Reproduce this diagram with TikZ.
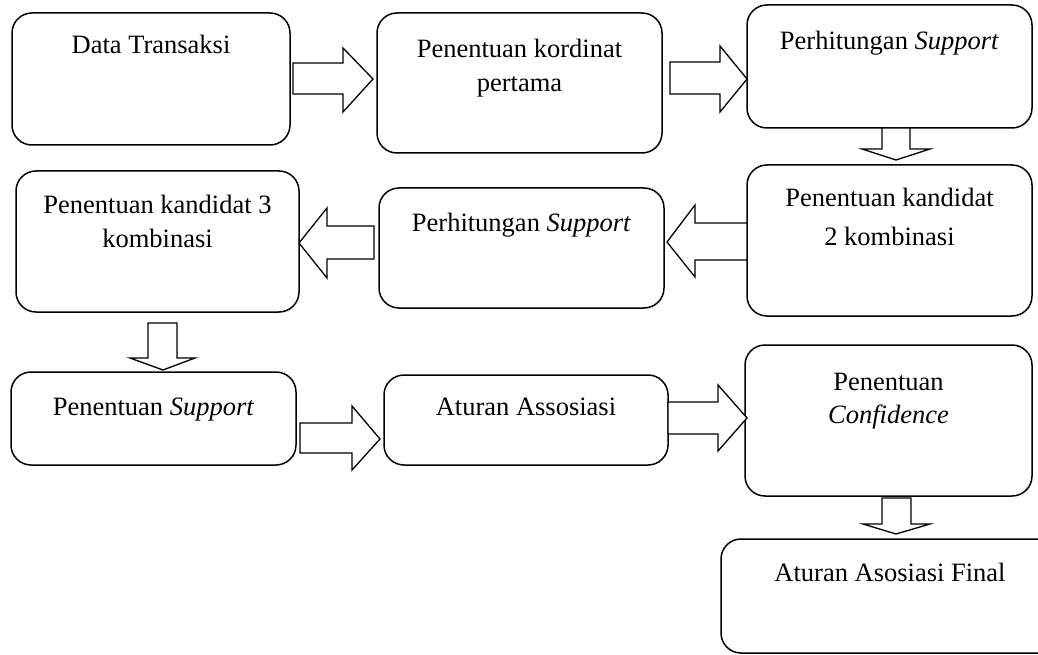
\documentclass[tikz,border=0pt]{standalone}
\usepackage{fontspec}
\setmainfont{Liberation Serif}
\begin{document}
\begin{tikzpicture}[x=1pt,y=-1pt,
  box/.style={draw=black, line width=1.5pt, rounded corners=20pt, inner sep=0pt, outer sep=0pt, anchor=north west},
  txt/.style={anchor=base, inner sep=0pt, font=\fontsize{26.5}{34}\selectfont},
  blk/.style={draw=black, line width=1.3pt, fill=white, line join=miter}]
\useasboundingbox (0,0) rectangle (1038,655);
\clip (0,0) rectangle (1038,655);
% boxes
\node[box, minimum width=278pt, minimum height=132pt] (b1) at (12,13) {};
\node[box, minimum width=285pt, minimum height=140pt] (b2) at (377,13) {};
\node[box, minimum width=285pt, minimum height=123pt] (b3) at (747,5) {};
\node[box, minimum width=285pt, minimum height=151pt] (b4) at (747,165) {};
\node[box, minimum width=285pt, minimum height=120pt] (b5) at (379,188) {};
\node[box, minimum width=283pt, minimum height=141pt] (b6) at (16,171) {};
\node[box, minimum width=285pt, minimum height=93pt] (b7) at (11,372) {};
\node[box, minimum width=284pt, minimum height=90pt] (b8) at (384,375) {};
\node[box, minimum width=287pt, minimum height=151pt] (b9) at (745,345) {};
\node[box, minimum width=338pt, minimum height=114pt] (b10) at (721,539) {};
% texts
\node[txt] (t1) at (151,54) {Data Transaksi};
\node[txt] (t2a) at (519.5,58) {Penentuan kordinat};
\node[txt] (t2b) at (519.5,92) {pertama};
\node[txt] (t3) at (889.5,50) {Perhitungan \textit{Support}};
\node[txt] (t4a) at (889.5,207) {Penentuan kandidat};
\node[txt] (t4b) at (889.5,245) {2 kombinasi};
\node[txt] (t5) at (521.5,231) {Perhitungan \textit{Support}};
\node[txt] (t6a) at (157.5,213) {Penentuan kandidat 3};
\node[txt] (t6b) at (157.5,247) {kombinasi};
\node[txt] (t7) at (153.5,415) {Penentuan \textit{Support}};
\node[txt] (t8) at (526,415) {Aturan Assosiasi};
\node[txt] (t9a) at (888.5,390) {Penentuan};
\node[txt] (t9b) at (888.5,423) {\textit{Confidence}};
\node[txt] (t10) at (890,581) {Aturan Asosiasi Final};
% block arrows
\draw[blk] (293,63) -- (343,63) -- (343,48) -- (373,79) -- (343,112) -- (343,94) -- (293,94) -- cycle;
\draw[blk] (670,62) -- (720,62) -- (720,46) -- (747,79) -- (720,112) -- (720,94) -- (670,94) -- cycle;
\draw[blk] (882,128) -- (882,149) -- (862,149) -- (896,160) -- (930,149) -- (910,149) -- (910,128) -- cycle;
\draw[blk] (747,223) -- (695,223) -- (695,205) -- (667,242) -- (695,277) -- (695,260) -- (747,260) -- cycle;
\draw[blk] (374,226) -- (327,226) -- (327,208) -- (299,243) -- (327,278) -- (327,259) -- (374,259) -- cycle;
\draw[blk] (148,323) -- (148,358) -- (130,358) -- (163,370) -- (195,358) -- (177,358) -- (177,323) -- cycle;
\draw[blk] (300,423) -- (352,423) -- (352,406) -- (380,439) -- (352,470) -- (352,453) -- (300,453) -- cycle;
\draw[blk] (668,402) -- (718,402) -- (718,385) -- (747,418) -- (718,451) -- (718,434) -- (668,434) -- cycle;
\draw[blk] (882,498) -- (882,524) -- (863,524) -- (896,534) -- (930,524) -- (911,524) -- (911,498) -- cycle;
\end{tikzpicture}
\end{document}
